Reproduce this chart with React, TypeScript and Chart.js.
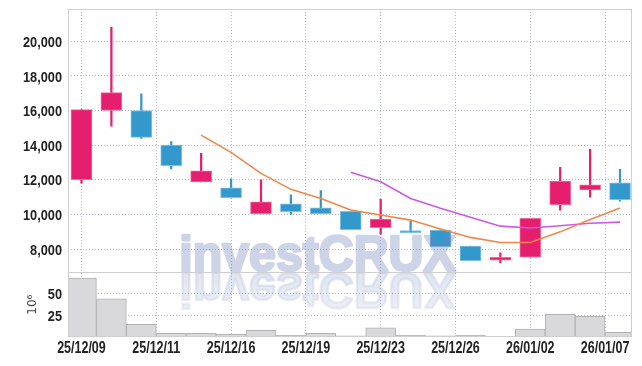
import React, { useEffect, useRef } from 'react';
import { Chart, registerables } from 'chart.js';

Chart.register(...registerables);

// ---- data ----
const dates = ['25/12/09', '25/12/10', '25/12/11', '25/12/12', '25/12/15', '25/12/16', '25/12/17', '25/12/18', '25/12/19', '25/12/22', '25/12/23', '25/12/24', '25/12/26', '25/12/29', '25/12/30', '26/01/02', '26/01/05', '26/01/06', '26/01/07'];
const openPrices = [12000, 16000, 16000, 14000, 11880, 11540, 10040, 10610, 10380, 10170, 9230, 8975, 9090, 8170, 7350, 7530, 10560, 11420, 11830];
const closePrices = [16050, 17030, 14450, 12810, 12520, 10960, 10730, 10150, 10040, 9110, 9730, 8950, 8130, 7320, 7520, 9770, 11925, 11710, 10850];
const highPrices = [16050, 20800, 16970, 14200, 13530, 12060, 12000, 11130, 11370, 10170, 10870, 9610, 9120, 8170, 7780, 9770, 12720, 13760, 12600];
const lowPrices = [11800, 15100, 14390, 12620, 11880, 10950, 10020, 10000, 10040, 9110, 8860, 8950, 8130, 7320, 7200, 7530, 10250, 11000, 10770];
const volumes = [67.6, 43.8, 14.6, 4.3, 4.3, 3.1, 7.7, 2.0, 4.3, 1.2, 10.4, 2.0, 1.2, 2.0, 0.8, 9.2, 26.1, 23.8, 5.4];
const ma5Start = 4;
const ma5 = [14580, 13580, 12370, 11445, 10920, 10250, 9960, 9670, 9150, 8670, 8380, 8380, 8990, 9710, 10365];
const ma10Start = 9;
const ma10 = [12430, 11885, 10920, 10350, 9830, 9320, 9210, 9340, 9490, 9550];
const xTickPositions = [0, 2.5, 5, 7.5, 10, 12.5, 15, 17.5];
const xTickLabels = ['25/12/09', '25/12/11', '25/12/16', '25/12/19', '25/12/23', '25/12/26', '26/01/02', '26/01/07'];
const priceTicks = [8000, 10000, 12000, 14000, 16000, 18000, 20000];
const volumeTicks = [25, 50];

const UP = '#e61e6e';
const UP_BORDER = '#f06b9c';
const DOWN = '#3399cc';
const DOWN_BORDER = '#80c0e2';
const GRID = 'rgba(165,170,195,0.85)';
const LABEL_FAMILY = '"Liberation Sans", Arial, sans-serif';
const WATERMARK = 'investCRUX';

function drawCondensed(ctx: CanvasRenderingContext2D, text: string, x: number, y: number, align: CanvasTextAlign, size: number, sx: number) {
  ctx.save();
  ctx.font = `bold ${size}px ${LABEL_FAMILY}`;
  ctx.fillStyle = '#222';
  ctx.textBaseline = 'middle';
  ctx.textAlign = align;
  ctx.translate(x, y);
  ctx.scale(sx, 1);
  ctx.fillText(text, 0, 0);
  ctx.restore();
}

const panelPlugin = {
  id: 'panels',
  afterDatasetsDraw(chart: any) {
    const { ctx, chartArea, width, height } = chart;
    const yScale = chart.scales.y;
    const baseY = yScale.bottom - 1;
    const stroke = 2.6;
    const x0 = chartArea.left + 110 + stroke / 2;
    const targetW = 279 - stroke;

    const off = document.createElement('canvas');
    off.width = width;
    off.height = height;
    const o = off.getContext('2d') as CanvasRenderingContext2D;
    o.font = 'bold 50px "Liberation Sans", Arial, sans-serif';
    o.textBaseline = 'alphabetic';
    o.textAlign = 'left';
    o.lineJoin = 'round';
    const w = o.measureText(WATERMARK).width || targetW;
    const sx = targetW / w;
    // main text
    o.save();
    o.translate(x0, baseY);
    o.scale(sx, 1);
    o.fillStyle = 'rgb(110,130,188)';
    o.strokeStyle = 'rgb(110,130,188)';
    o.lineWidth = stroke;
    o.fillText(WATERMARK, 0, 0);
    o.strokeText(WATERMARK, 0, 0);
    o.restore();
    // reflection
    o.save();
    o.translate(x0, baseY + 2);
    o.scale(sx, -1);
    const g = o.createLinearGradient(0, 0, 0, -40);
    g.addColorStop(0, 'rgba(110,130,188,0.6)');
    g.addColorStop(1, 'rgba(110,130,188,0.35)');
    o.fillStyle = g;
    o.strokeStyle = g;
    o.lineWidth = stroke;
    o.fillText(WATERMARK, 0, 0);
    o.strokeText(WATERMARK, 0, 0);
    o.restore();

    ctx.save();
    ctx.beginPath();
    ctx.rect(chartArea.left, chartArea.top, chartArea.right - chartArea.left, chartArea.bottom - chartArea.top);
    ctx.clip();
    ctx.globalAlpha = 0.34;
    ctx.setTransform(1, 0, 0, 1, 0, 0);
    ctx.drawImage(off, 0, 0);
    ctx.restore();
  },
  afterDraw(chart: any) {
    const { ctx, chartArea } = chart;
    const yScale = chart.scales.y;
    const vScale = chart.scales.yv;
    const xScale = chart.scales.x;
    ctx.save();
    ctx.strokeStyle = '#cfcfcf';
    ctx.lineWidth = 1;
    ctx.strokeRect(chartArea.left + 0.5, chartArea.top + 0.5, chartArea.right - chartArea.left - 1, chartArea.bottom - chartArea.top - 1);
    ctx.beginPath();
    const sy = Math.round(yScale.bottom) + 0.5;
    ctx.moveTo(chartArea.left, sy);
    ctx.lineTo(chartArea.right, sy);
    ctx.stroke();
    ctx.restore();

    // tick labels (condensed bold)
    priceTicks.forEach((v) => {
      drawCondensed(ctx, v.toLocaleString('en-US'), chartArea.left - 6, yScale.getPixelForValue(v) + 1.5, 'right', 15, 0.85);
    });
    volumeTicks.forEach((v) => {
      drawCondensed(ctx, String(v), chartArea.left - 6, vScale.getPixelForValue(v) + 1.5, 'right', 15, 0.85);
    });
    xTickPositions.forEach((p, i) => {
      drawCondensed(ctx, xTickLabels[i], xScale.getPixelForValue(p), chartArea.bottom + 12, 'center', 16, 0.78);
    });
  },
};

export default function App() {
  const ref = useRef<HTMLCanvasElement>(null);

  useEffect(() => {
    const canvas = ref.current;
    if (!canvas) return;
    const idx = dates.map((_, i) => i);
    const isUp = idx.map((i) => closePrices[i] >= openPrices[i]);

    const chart = new Chart(canvas, {
      type: 'bar',
      data: {
        datasets: [
          {
            type: 'line',
            label: 'MA5',
            data: ma5.map((v, k) => ({ x: ma5Start + k, y: v })),
            borderColor: '#f0874a',
            borderWidth: 1.6,
            pointRadius: 0,
            yAxisID: 'y',
            order: 0,
          } as any,
          {
            type: 'line',
            label: 'MA10',
            data: ma10.map((v, k) => ({ x: ma10Start + k, y: v })),
            borderColor: '#c95be6',
            borderWidth: 1.6,
            pointRadius: 0,
            yAxisID: 'y',
            order: 0,
          } as any,
          {
            label: 'body',
            data: idx.map((i) => ({ x: i, y: [openPrices[i], closePrices[i]] })),
            backgroundColor: idx.map((i) => (isUp[i] ? UP : DOWN)),
            borderColor: idx.map((i) => (isUp[i] ? UP_BORDER : DOWN_BORDER)),
            borderWidth: 1,
            borderSkipped: false,
            barThickness: 21,
            minBarLength: 2,
            grouped: false,
            yAxisID: 'y',
            order: 1,
          } as any,
          {
            label: 'wick',
            data: idx.map((i) => ({ x: i, y: [lowPrices[i], highPrices[i]] })),
            backgroundColor: idx.map((i) => (isUp[i] ? UP : DOWN)),
            borderWidth: 0,
            barThickness: 1.6,
            grouped: false,
            yAxisID: 'y',
            order: 2,
          } as any,
          {
            label: 'volume',
            data: idx.map((i) => ({ x: i, y: volumes[i] })),
            backgroundColor: '#d9d9dc',
            borderColor: '#b3b3b6',
            borderWidth: 1,
            barPercentage: 1,
            categoryPercentage: 1,
            grouped: false,
            yAxisID: 'yv',
            order: 3,
          } as any,
        ],
      },
      options: {
        animation: false,
        responsive: false,
        maintainAspectRatio: false,
        layout: { padding: { top: 1, right: 2, bottom: 0, left: 0 } },
        plugins: { legend: { display: false }, tooltip: { enabled: false } },
        scales: {
          x: {
            type: 'linear',
            min: -0.45,
            max: 18.4,
            offset: false,
            afterBuildTicks: (s: any) => {
              s.ticks = xTickPositions.map((v) => ({ value: v }));
            },
            afterFit: (s: any) => {
              s.height = 21;
            },
            ticks: { display: false, autoSkip: false, maxRotation: 0 },
            grid: { color: GRID, lineWidth: 1, drawTicks: false, offset: false },
            border: { display: false, dash: [1, 2] },
          },
          yv: {
            type: 'linear',
            position: 'left',
            stack: 'panels',
            stackWeight: 64.7,
            min: 0,
            max: 74.2,
            afterBuildTicks: (s: any) => {
              s.ticks = volumeTicks.map((v) => ({ value: v }));
            },
            afterFit: (s: any) => {
              s.width = 60;
            },
            title: {
              display: true,
              text: '10\u2076',
              color: '#444',
              font: { family: '"DejaVu Sans", sans-serif', size: 12 },
              padding: { top: 18, bottom: 0 },
            },
            ticks: { display: false },
            grid: { color: GRID, lineWidth: 1, drawTicks: false },
            border: { display: false, dash: [1, 2] },
          },
          y: {
            type: 'linear',
            position: 'left',
            stack: 'panels',
            stackWeight: 263.3,
            min: 6654,
            max: 21866,
            afterBuildTicks: (s: any) => {
              s.ticks = priceTicks.map((v) => ({ value: v }));
            },
            afterFit: (s: any) => {
              s.width = 60;
            },
            ticks: { display: false },
            grid: { color: GRID, lineWidth: 1, drawTicks: false },
            border: { display: false, dash: [1, 2] },
          },
        } as any,
      },
      plugins: [panelPlugin],
    } as any);

    return () => chart.destroy();
  }, []);

  return (
    <div style={{ width: 626, height: 350 }}>
      <canvas ref={ref} width={626} height={350} style={{ display: 'block' }} />
    </div>
  );
}
